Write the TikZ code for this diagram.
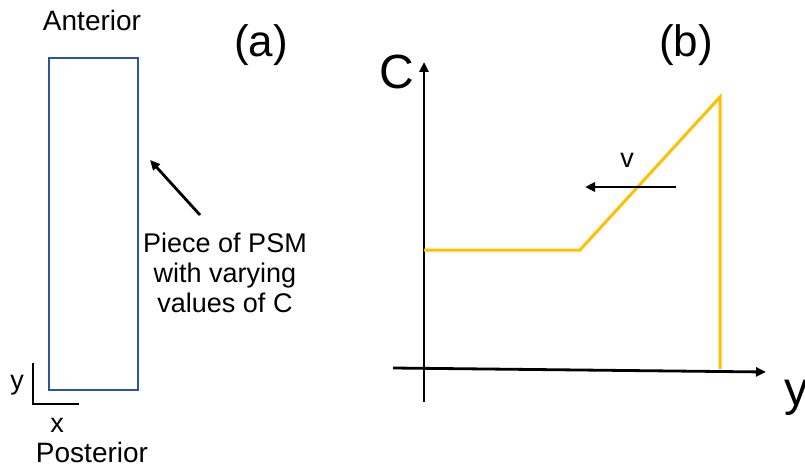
\documentclass[tikz,border=0pt]{standalone}
\usepackage{fontspec}
\setmainfont{Liberation Sans}
\usetikzlibrary{arrows.meta}
\definecolor{psmblue}{RGB}{47,85,151}
\definecolor{curveor}{RGB}{255,192,0}
\begin{document}
\begin{tikzpicture}[x=1pt,y=-1pt,
  lbl/.style={inner sep=0pt,font=\fontsize{27}{30}\selectfont},
  tag/.style={inner sep=0pt,font=\fontsize{28}{30}\selectfont},
  big/.style={inner sep=0pt,font=\fontsize{44}{48}\selectfont},
  axis/.style={line width=2.8pt,-{Triangle[length=10pt,width=9pt]}},
  thin/.style={line width=1.5pt}]
\useasboundingbox (0,0) rectangle (805,468);
% panel (a)
\node[draw=psmblue,line width=2.6pt,minimum width=89pt,minimum height=332pt,inner sep=0pt] (psm) at (93.5,224) {};
\node[tag] (ant) at (92,20) {Anterior};
\node[tag] (post) at (92,452) {Posterior};
\node[big] (a) at (261,45) {(a)};
\node[lbl,align=center] (piece) at (225,273) {Piece of PSM\\with varying\\values of C};
\coordinate (ptail) at (200,215);
\coordinate (phead) at (150,160);
\draw[line width=2.8pt,-{Triangle[length=10pt,width=9pt]}] (ptail) -- (phead);
\coordinate (o) at (33,404);
\coordinate (oy) at (33,363);
\coordinate (ox) at (79,404);
\draw[thin] (oy) -- (o) -- (ox);
\node[lbl] (ylab) at (17,385) {y};
\node[lbl] (xlab) at (57,425) {x};
% panel (b)
\node[big] (b) at (686,45) {(b)};
\coordinate (cbot) at (424,402);
\coordinate (ctop) at (424,62);
\coordinate (xl) at (393,368);
\coordinate (xr) at (766,372);
\draw[axis] (cbot) -- (ctop);
\draw[axis] (xl) -- (xr);
\node[inner sep=0pt,font=\fontsize{48}{52}\selectfont] (C) at (397,72) {C};
\node[inner sep=0pt,font=\fontsize{48}{52}\selectfont,anchor=west] (Y) at (784,398) {y};
\coordinate (k0) at (424,250);
\coordinate (k1) at (580,250);
\coordinate (k2) at (720,97);
\coordinate (k3) at (720,369);
\draw[curveor,line width=3pt] (k0) -- (k1) -- (k2) -- (k3);
\coordinate (vt) at (676,187);
\coordinate (vh) at (585,187);
\draw[line width=2.8pt,-{Triangle[length=10pt,width=9pt]}] (vt) -- (vh);
\node[lbl] (v) at (627,160) {v};
\end{tikzpicture}
\end{document}
